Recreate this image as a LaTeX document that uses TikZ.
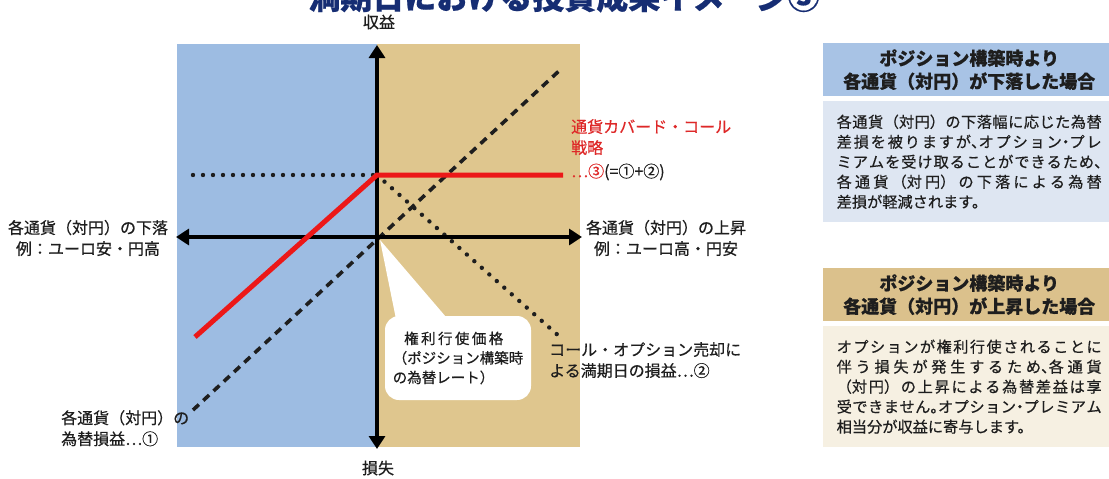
\documentclass[tikz,border=0pt]{standalone}
\usepackage{fontspec}
\setmainfont{Noto Sans CJK JP}[FakeBold=0.5]
\usetikzlibrary{arrows.meta}
\XeTeXlinebreaklocale "ja"
\XeTeXlinebreakskip=0pt plus 4pt
\definecolor{panelblue}{RGB}{157,188,226}
\definecolor{paneltan}{RGB}{223,198,142}
\definecolor{hdrblue}{RGB}{168,195,229}
\definecolor{bodyblue}{RGB}{222,230,242}
\definecolor{hdrtan}{RGB}{219,193,140}
\definecolor{bodytan}{RGB}{246,240,226}
\definecolor{titleblue}{RGB}{22,45,115}
\definecolor{redline}{RGB}{236,24,24}
\definecolor{redtext}{RGB}{222,40,40}
\definecolor{ink}{RGB}{30,30,30}
\newcommand{\hw}[1]{\makebox[0.5em][l]{#1}}
\newcommand{\hwc}[1]{\makebox[0.5em][c]{#1}}
\begin{document}
\begin{tikzpicture}[x=1pt,y=-1pt,
  lbl/.style={font=\fontsize{16}{21}\selectfont, inner sep=0pt, align=center, text=ink},
  axisline/.style={line width=4pt, {Triangle[length=13pt,width=16pt]}-{Triangle[length=13pt,width=16pt]}},
  redpath/.style={line width=5pt, draw=redline, line join=miter},
  dotline/.style={line width=4.4pt, line cap=round, dash pattern=on 0pt off 10pt, draw=ink},
  dashline/.style={line width=3.6pt, dash pattern=on 8pt off 6pt, draw=ink},
  callbox/.style={fill=white, rounded corners=14pt, minimum width=146pt, minimum height=84pt,
    inner sep=0pt, align=left, font=\fontsize{14.5}{19.5}\selectfont, text=ink},
  hdr/.style={anchor=north west, minimum width=292pt, minimum height=53pt, inner sep=0pt,
    align=center, font=\bfseries\fontsize{18}{23}\selectfont, text=ink},
  bodybox/.style={anchor=north west, minimum width=292pt, text width=265pt, inner xsep=13.5pt,
    inner ysep=0pt, align=justify, font=\fontsize{15.2}{20}\selectfont, text=ink}
]
\useasboundingbox (0,0) rectangle (1109,479);
\fill[white] (0,0) rectangle (1109,479);

% title (cut off at the top)
\node[anchor=base, inner sep=0pt, font=\bfseries\fontsize{32}{36}\selectfont, text=titleblue] (title) at (564,9) {満期日における投資成果イメージ③};

% panels
\fill[panelblue] (177,44) rectangle (377,447);
\fill[paneltan] (377,44) rectangle (580,447);

% coordinates
\coordinate (O) at (377,237);
\coordinate (vtop) at (377,45);
\coordinate (vbot) at (377,449);
\coordinate (hl) at (176,237);
\coordinate (hr) at (582,237);
\coordinate (K) at (377,175);
\coordinate (r1) at (195,337);
\coordinate (r2) at (563,175);
\coordinate (d1) at (193,175);
\coordinate (d2) at (560,337);
\coordinate (a1) at (193,410);
\coordinate (a2) at (560,70);

% payoff lines
\draw[dashline] (a1) -- (a2);
\draw[dotline] (d1) -- (K);
\draw[dotline] (K) -- (d2);

% axes
\draw[axisline] (hl) -- (hr);
\draw[axisline] (vbot) -- (vtop);

% red strategy line
\draw[redpath] (r1) -- (K) -- (r2);

% callout
\coordinate (ptip) at (380,240);
\coordinate (pl) at (397,324);
\coordinate (pr) at (452,324);
\fill[white] (ptip) -- (pl) -- (pr) -- cycle;
\node[callbox] (cb) at (458,358) {\hspace*{9pt}\makebox[104pt]{権\hfil 利\hfil 行\hfil 使\hfil 価\hfil 格}\\（ポジション構築時\\の為替レート）};

% axis labels
\node[lbl] (gain) at (379,22) {収益};
\node[lbl] (loss) at (378,468) {損失};
\node[lbl] (lneg) at (88,238) {各通貨（対円）の下落\\例：ユーロ安・円高};
\node[lbl] (lpos) at (666,238) {各通貨（対円）の上昇\\例：ユーロ高・円安};

% curve labels
\node[lbl, anchor=north west, align=left, text=redtext] (cc) at (571,119) {通貨カバード・コール\\戦略};
\node[lbl, anchor=west] (cc3) at (571,172) {\textcolor{redtext}{…③}(=①+②)};
\node[lbl, anchor=north west, align=left] (cl2) at (549,342) {コール・オプション売却に\\よる満期日の損益…②};
\node[lbl, anchor=north west, align=left] (cl1) at (61,410) {各通貨（対円）の\\為替損益…①};

% right-hand boxes
\node[hdr, fill=hdrblue] (h1) at (823,43) {ポジション構築時より\\各通貨（対円）が下落した場合};
\node[bodybox, fill=bodyblue, minimum height=121pt] (b1) at (823,101) {各通貨（対円）の下落幅に応じた為替\linebreak 差損を被りますが\hw{、}オプション\hwc{・}プレ\linebreak ミアムを受け取ることができるため\hw{、}\linebreak 各通貨（対円）の下落による為替\linebreak 差損が軽減されます。};
\node[hdr, fill=hdrtan] (h2) at (823,268) {ポジション構築時より\\各通貨（対円）が上昇した場合};
\node[bodybox, fill=bodytan, minimum height=121pt] (b2) at (823,326) {オプションが権利行使されることに\linebreak 伴う損失が発生するため\hw{、}各通貨\linebreak （対円）の上昇による為替差益は享\linebreak 受できません\hw{。}オプション\hwc{・}プレミアム\linebreak 相当分が収益に寄与します。};
\end{tikzpicture}
\end{document}
